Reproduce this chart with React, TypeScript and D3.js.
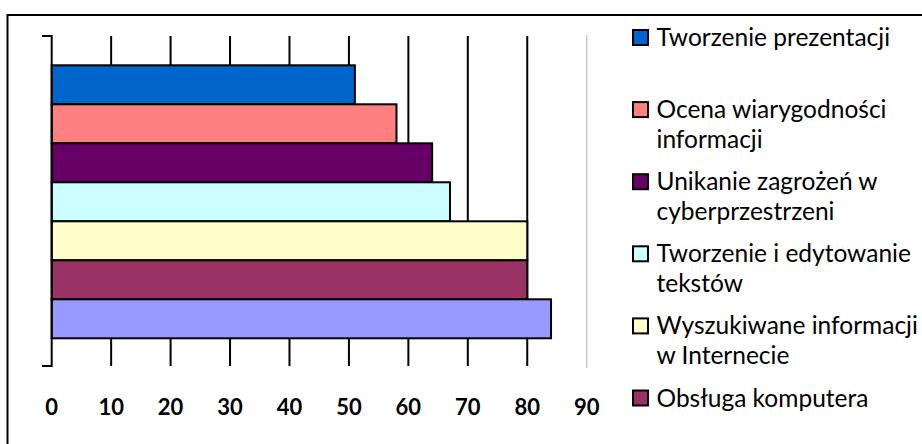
import React from "react";
import * as d3 from "d3";

const seriesValues = [51, 58, 64, 67, 80, 80, 84];
const seriesColors = ["#0066CC", "#FF8080", "#660066", "#CCFFFF", "#FFFFCC", "#993366", "#9999FF"];
const legendLines: string[][] = [
  ["Tworzenie prezentacji"],
  ["Ocena wiarygodności", "informacji"],
  ["Unikanie zagrożeń w", "cyberprzestrzeni"],
  ["Tworzenie i edytowanie", "tekstów"],
  ["Wyszukiwane informacji", "w Internecie"],
  ["Obsługa komputera"],
];
const tickValues = [0, 10, 20, 30, 40, 50, 60, 70, 80, 90];

export default function App() {
  const W = 922;
  const H = 444;
  const plotTop = 36;
  const plotBottom = 366;
  const x = d3.scaleLinear().domain([0, 90]).range([51.7, 586.7]);
  const y = d3
    .scaleBand<number>()
    .domain(seriesValues.map((_, i) => i))
    .range([65.3, 338.3])
    .paddingInner(0)
    .paddingOuter(0);

  const legendX = 633;
  const legendTop = 30;
  const legendStep = 72.1;
  const lineH = 29.5;

  return (
    <svg
      width={W}
      height={H}
      style={{ position: "absolute", left: 0, top: 0, background: "#fff" }}
    >
      {/* outer border */}
      <rect x={7.5} y={15} width={1000} height={1000} fill="#fff" stroke="#000" strokeWidth={2} />

      {/* gridlines */}
      {tickValues
        .filter((t) => t > 0 && t < 90)
        .map((t) => (
          <line key={t} x1={x(t)} x2={x(t)} y1={plotTop} y2={plotBottom} stroke="#000" strokeWidth={2} />
        ))}
      <line x1={x(90)} x2={x(90)} y1={plotTop - 1} y2={plotBottom + 2} stroke="#c8c8c8" strokeWidth={1.5} />

      {/* bars */}
      {seriesValues.map((v, i) => (
        <rect
          key={i}
          x={x(0)}
          y={y(i)!}
          width={x(v) - x(0)}
          height={y.bandwidth()}
          fill={seriesColors[i]}
          stroke="#000"
          strokeWidth={2}
        />
      ))}

      {/* category axis */}
      <line x1={x(0)} x2={x(0)} y1={plotTop - 1} y2={plotBottom + 1} stroke="#000" strokeWidth={2} />
      <line x1={42} x2={x(0)} y1={plotTop} y2={plotTop} stroke="#000" strokeWidth={2} />
      <line x1={42} x2={x(0)} y1={plotBottom} y2={plotBottom} stroke="#000" strokeWidth={2} />

      {/* tick labels */}
      {tickValues.map((t) => (
        <text
          key={t}
          x={x(t)}
          y={415}
          textAnchor="middle"
          fontFamily="Lato, 'Open Sans', sans-serif"
          fontWeight="bold"
          fontSize={22}
          fill="#000"
        >
          {t}
        </text>
      ))}

      {/* legend */}
      {legendLines.map((lines, i) => {
        const top = legendTop + i * legendStep;
        return (
          <g key={i}>
            <rect x={legendX} y={top} width={15} height={15} fill={seriesColors[i]} stroke="#000" strokeWidth={2} />
            {lines.map((ln, j) => (
              <text
                key={j}
                x={656.5}
                y={top + 16 + j * lineH}
                fontFamily="Lato, 'Open Sans', sans-serif"
                fontSize={24.5}
                fill="#000"
              >
                {ln}
              </text>
            ))}
          </g>
        );
      })}
    </svg>
  );
}
